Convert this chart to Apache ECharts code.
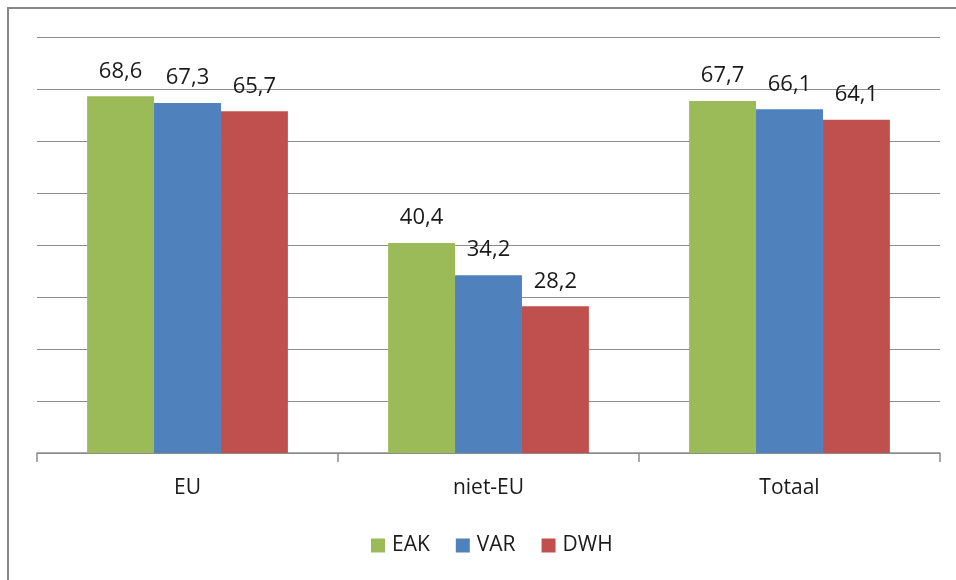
<!DOCTYPE html>
<html>
<head>
<meta charset="utf-8">
<script src="https://cdn.jsdelivr.net/npm/echarts@6/dist/echarts.min.js"></script>
<style>
html,body{margin:0;padding:0;background:#fff;}
#main{width:956px;height:580px;}
</style>
</head>
<body>
<div id="main"></div>
<script>
const categories = ['EU', 'niet-EU', 'Totaal'];
const seriesNames = ['EAK', 'VAR', 'DWH'];
const eak = [68.6, 40.4, 67.7];
const varData = [67.3, 34.2, 66.1];
const dwh = [65.7, 28.2, 64.1];
const colors = ['#9BBB59', '#4F81BD', '#C0504D'];

const font = '"Open Sans", "DejaVu Sans", sans-serif';
const chart = echarts.init(document.getElementById('main'));
function mk(name, data, color) {
  return {
    name: name, type: 'bar', data: data,
    barGap: '0%', barCategoryGap: '33.3%',
    itemStyle: { color: color },
    label: {
      show: true, position: 'top', distance: 14,
      fontFamily: font, fontSize: 22, color: '#1a1a1a',
      formatter: p => String(p.value).replace('.', ',')
    }
  };
}
chart.setOption({
  animation: false,
  backgroundColor: '#fff',
  graphic: [{
    type: 'rect', silent: true, z: 100,
    shape: { x: 8, y: 8, width: 1000, height: 700 },
    style: { fill: 'none', stroke: '#878787', lineWidth: 2 }
  }],
  grid: { left: 37, right: 16, top: 37, bottom: 127 },
  legend: {
    bottom: 19, left: 366,
    itemWidth: 14, itemHeight: 14, itemGap: 26,
    icon: 'rect',
    textStyle: { fontFamily: font, fontSize: 21, color: '#1a1a1a', padding: [0, 0, 0, 2] },
    data: seriesNames
  },
  xAxis: {
    type: 'category', data: categories,
    axisLine: { lineStyle: { color: '#8c8c8c', width: 1.5 } },
    axisTick: { show: true, length: 9, lineStyle: { color: '#8c8c8c', width: 1.5 } },
    axisLabel: { fontFamily: font, fontSize: 21, color: '#1a1a1a', margin: 25 }
  },
  yAxis: {
    type: 'value', min: 0, max: 80, interval: 10,
    axisLabel: { show: false },
    axisLine: { show: false },
    axisTick: { show: false },
    splitLine: { lineStyle: { color: '#8c8c8c', width: 1.2 } }
  },
  series: [
    mk(seriesNames[0], eak, colors[0]),
    mk(seriesNames[1], varData, colors[1]),
    mk(seriesNames[2], dwh, colors[2])
  ]
});
</script>
</body>
</html>
